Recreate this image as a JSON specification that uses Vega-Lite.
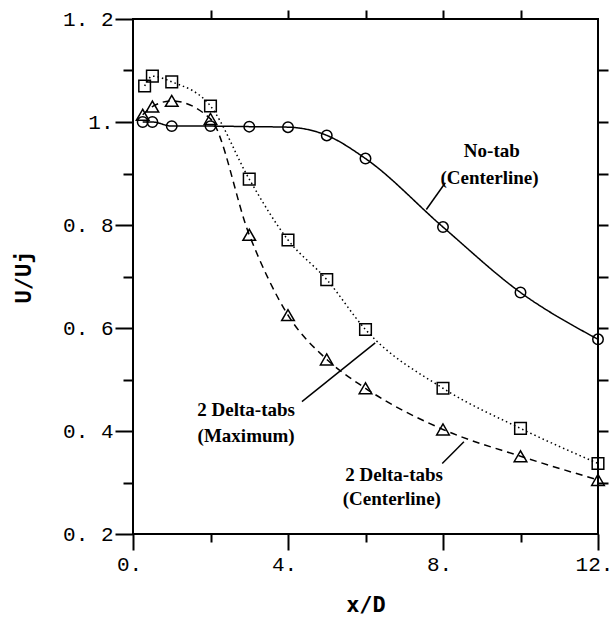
{
  "$schema": "https://vega.github.io/schema/vega-lite/v6.json",
  "width": 465,
  "height": 515,
  "autosize": {"type": "none"},
  "padding": {"left": 133, "top": 19, "right": 16, "bottom": 83},
  "background": "white",
  "config": {"view": {"stroke": "black", "strokeWidth": 2}},
  "datasets": {
    "series": [
      {"series": "notab", "x": 0.25, "y": 1.0},
      {"series": "notab", "x": 0.5, "y": 1.0},
      {"series": "notab", "x": 1, "y": 0.992},
      {"series": "notab", "x": 2, "y": 0.992},
      {"series": "notab", "x": 3, "y": 0.991},
      {"series": "notab", "x": 4, "y": 0.99},
      {"series": "notab", "x": 5, "y": 0.974},
      {"series": "notab", "x": 6, "y": 0.929},
      {"series": "notab", "x": 8, "y": 0.796},
      {"series": "notab", "x": 10, "y": 0.669},
      {"series": "notab", "x": 12, "y": 0.578},
      {"series": "max", "x": 0.3, "y": 1.07},
      {"series": "max", "x": 0.5, "y": 1.089},
      {"series": "max", "x": 1, "y": 1.078},
      {"series": "max", "x": 2, "y": 1.031},
      {"series": "max", "x": 3, "y": 0.889},
      {"series": "max", "x": 4, "y": 0.771},
      {"series": "max", "x": 5, "y": 0.694},
      {"series": "max", "x": 6, "y": 0.597},
      {"series": "max", "x": 8, "y": 0.483},
      {"series": "max", "x": 10, "y": 0.405},
      {"series": "max", "x": 12, "y": 0.337},
      {"series": "center", "x": 0.25, "y": 1.014},
      {"series": "center", "x": 0.5, "y": 1.03},
      {"series": "center", "x": 1, "y": 1.041},
      {"series": "center", "x": 2, "y": 1.006},
      {"series": "center", "x": 3, "y": 0.781},
      {"series": "center", "x": 4, "y": 0.625},
      {"series": "center", "x": 5, "y": 0.539},
      {"series": "center", "x": 6, "y": 0.483},
      {"series": "center", "x": 8, "y": 0.403},
      {"series": "center", "x": 10, "y": 0.351},
      {"series": "center", "x": 12, "y": 0.305}
    ],
    "labels": [
      {"x": 9.26, "y": 0.943, "text": "No-tab"},
      {"x": 9.2, "y": 0.892, "text": "(Centerline)"},
      {"x": 2.92, "y": 0.44, "text": "2 Delta-tabs"},
      {"x": 2.92, "y": 0.391, "text": "(Maximum)"},
      {"x": 6.74, "y": 0.314, "text": "2 Delta-tabs"},
      {"x": 6.68, "y": 0.268, "text": "(Centerline)"}
    ],
    "leaders": [
      {"x": 8.06, "y": 0.882, "x2": 7.57, "y2": 0.83},
      {"x": 4.36, "y": 0.457, "x2": 6.25, "y2": 0.571},
      {"x": 7.98, "y": 0.337, "x2": 8.54, "y2": 0.379}
    ]
  },
  "layer": [
    {
      "data": {"name": "series"},
      "mark": {"type": "line", "interpolate": "monotone", "color": "black", "strokeWidth": 1.5},
      "encoding": {
        "x": {
          "field": "x", "type": "quantitative",
          "scale": {"domain": [0, 12], "nice": false, "zero": false},
          "axis": {
            "orient": "bottom", "values": [0, 4, 8, 12], "domain": false, "grid": false,
            "tickColor": "black", "tickWidth": 2, "tickSize": 16,
            "labelExpr": "datum.value + '.'",
            "labelFont": "Liberation Mono", "labelFontSize": 21, "labelColor": "black",
            "labelPadding": 3, "labelOffset": -4, "labelOverlap": false, "labelFlush": false, "labelBound": false,
            "title": "x/D", "titleFont": "DejaVu Sans Mono", "titleFontSize": 22, "titleFontWeight": "bold",
            "titleColor": "black", "titlePadding": 20
          }
        },
        "y": {
          "field": "y", "type": "quantitative",
          "scale": {"domain": [0.2, 1.2], "nice": false, "zero": false},
          "axis": {
            "orient": "left", "values": [0.2, 0.4, 0.6, 0.8, 1.0, 1.2], "domain": false, "grid": false,
            "tickColor": "black", "tickWidth": 2, "tickSize": 18,
            "labelExpr": "datum.value == 1 ? '1.\u00a0' : replace(format(datum.value, '.1f'), '.', '. ')",
            "labelFont": "Liberation Mono", "labelFontSize": 21, "labelColor": "black",
            "labelPadding": 2, "labelOverlap": false, "labelFlush": false, "labelBound": false,
            "title": "U/Uj", "titleFont": "DejaVu Sans Mono", "titleFontSize": 22, "titleFontWeight": "bold",
            "titleColor": "black", "titlePadding": 27
          }
        },
        "strokeDash": {
          "field": "series", "type": "nominal",
          "scale": {"domain": ["notab", "max", "center"], "range": [[1, 0], [1.5, 3], [7, 5]]},
          "legend": null
        }
      }
    },
    {
      "data": {"name": "series"},
      "mark": {"type": "point", "filled": false, "color": "black", "strokeWidth": 1.5, "opacity": 1},
      "encoding": {
        "x": {
          "field": "x", "type": "quantitative",
          "axis": {
            "orient": "bottom", "values": [2, 6, 10], "domain": false, "grid": false, "labels": false,
            "tickColor": "black", "tickWidth": 2, "tickSize": 8, "title": null
          }
        },
        "y": {
          "field": "y", "type": "quantitative",
          "axis": {
            "orient": "left", "values": [0.3, 0.5, 0.7, 0.9, 1.1], "domain": false, "grid": false, "labels": false,
            "tickColor": "black", "tickWidth": 2, "tickSize": 10, "title": null
          }
        },
        "shape": {
          "field": "series", "type": "nominal",
          "scale": {"domain": ["notab", "max", "center"], "range": ["circle", "square", "triangle-up"]},
          "legend": null
        },
        "size": {
          "field": "series", "type": "nominal",
          "scale": {"domain": ["notab", "max", "center"], "range": [110, 160, 140]},
          "legend": null
        }
      }
    },
    {
      "data": {"name": "leaders"},
      "mark": {"type": "rule", "color": "black", "strokeWidth": 1.5},
      "encoding": {
        "x": {
          "field": "x", "type": "quantitative",
          "axis": {
            "orient": "top", "values": [2, 4, 6, 8, 10], "domain": false, "grid": false, "labels": false,
            "tickColor": "black", "tickWidth": 2, "tickSize": 9, "title": null
          }
        },
        "y": {
          "field": "y", "type": "quantitative",
          "axis": {
            "orient": "right", "values": [0.3, 0.4, 0.5, 0.6, 0.7, 0.8, 0.9, 1.0, 1.1], "domain": false, "grid": false, "labels": false,
            "tickColor": "black", "tickWidth": 2, "tickSize": 10, "title": null
          }
        },
        "x2": {"field": "x2"},
        "y2": {"field": "y2"}
      }
    },
    {
      "data": {"name": "labels"},
      "mark": {"type": "text", "font": "Liberation Serif", "fontSize": 19, "fontWeight": "bold", "align": "center", "baseline": "middle", "color": "black"},
      "encoding": {
        "x": {"field": "x", "type": "quantitative", "axis": null},
        "y": {"field": "y", "type": "quantitative", "axis": null},
        "text": {"field": "text", "type": "nominal"}
      }
    }
  ],
  "resolve": {"axis": {"x": "independent", "y": "independent"}}
}
